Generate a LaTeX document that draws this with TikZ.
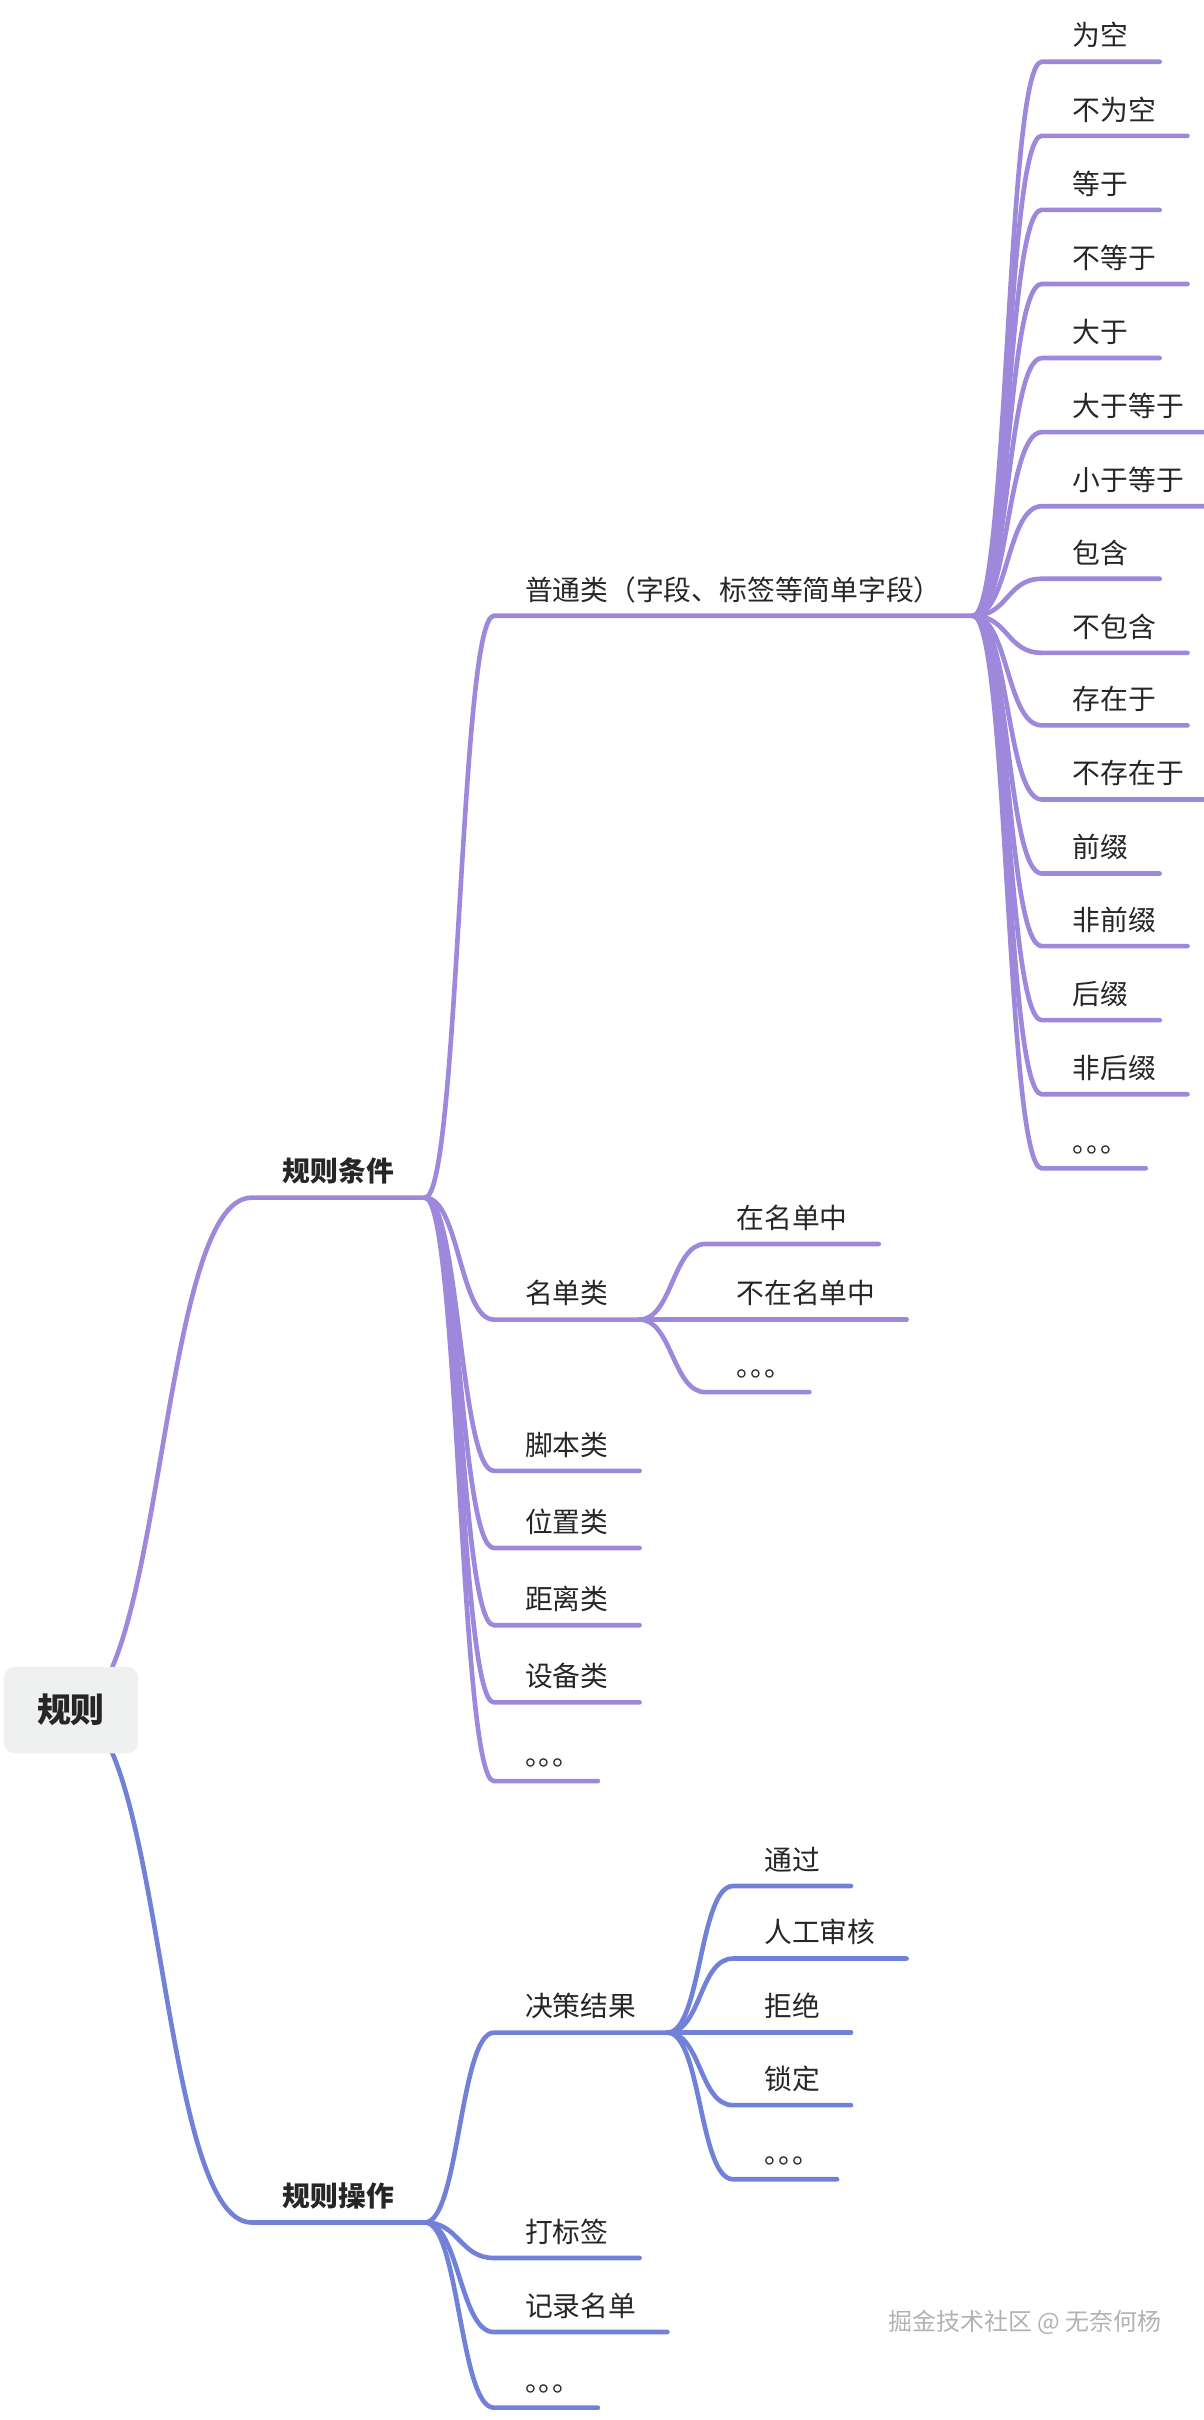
\documentclass[tikz,border=0pt]{standalone}
\usepackage{fontspec}
\setmainfont{Noto Sans CJK SC}
\newfontfamily\halffont[RawFeature=+halt]{Noto Sans CJK SC}
\usetikzlibrary{backgrounds}
\definecolor{purp}{HTML}{9D88DB}
\definecolor{blu}{HTML}{7181D8}
\definecolor{ink}{HTML}{262626}
\definecolor{rootfill}{HTML}{EFF1F1}
\tikzset{
  leaf/.style={anchor=south west, inner xsep=20pt, inner ysep=7pt, text height=15pt, text depth=3pt, text=ink, font=\fontsize{18}{22}\selectfont},
  topic/.style={leaf, font=\fontsize{18}{22}\selectfont\bfseries},
  etc/.style={leaf, font=\fontsize{18}{22}\selectfont\halffont},
  rootbox/.style={fill=rootfill, rounded corners=7pt, minimum width=87pt, minimum height=56pt, text=ink, font=\fontsize{22}{26}\selectfont\bfseries},
  cline/.style={draw=purp, line width=3pt, line cap=round},
  bline/.style={draw=blu, line width=3pt, line cap=round}
}
\begin{document}
\begin{tikzpicture}[x=1pt,y=-1pt]
\useasboundingbox (0,0) rectangle (780,1568);

\node[rootbox] (root) at (46,1108) {规则};

\node[topic] (cond) at (163,776) {规则条件};
\node[topic] (oper) at (163,1440) {规则操作};

\node[leaf] (plain) at (320,399) {普通类（字段、标签等简单字段）};
\node[leaf] (list) at (320,855) {名单类};
\node[leaf] (script) at (320,953) {脚本类};
\node[leaf] (pos) at (320,1003) {位置类};
\node[leaf] (dist) at (320,1053) {距离类};
\node[leaf] (dev) at (320,1103) {设备类};
\node[etc] (cmore) at (320,1154) {。。。};

\node[leaf] (isnull) at (675,40) {为空};
\node[leaf] (notnull) at (675,88) {不为空};
\node[leaf] (eq) at (675,136) {等于};
\node[leaf] (neq) at (675,184) {不等于};
\node[leaf] (gt) at (675,232) {大于};
\node[leaf] (ge) at (675,280) {大于等于};
\node[leaf] (le) at (675,328) {小于等于};
\node[leaf] (has) at (675,375) {包含};
\node[leaf] (nohas) at (675,423) {不包含};
\node[leaf] (exist) at (675,470) {存在于};
\node[leaf] (noexist) at (675,518) {不存在于};
\node[leaf] (pre) at (675,566) {前缀};
\node[leaf] (nopre) at (675,613) {非前缀};
\node[leaf] (suf) at (675,661) {后缀};
\node[leaf] (nosuf) at (675,709) {非后缀};
\node[etc] (pmore) at (675,757) {。。。};

\node[leaf] (inlist) at (457,806) {在名单中};
\node[leaf] (notinlist) at (457,855) {不在名单中};
\node[etc] (lmore) at (457,902) {。。。};

\node[leaf] (decide) at (320,1317) {决策结果};
\node[leaf] (tag) at (320,1463) {打标签};
\node[leaf] (record) at (320,1511) {记录名单};
\node[etc] (omore) at (320,1560) {。。。};

\node[leaf] (pass) at (475,1222) {通过};
\node[leaf] (review) at (475,1269) {人工审核};
\node[leaf] (reject) at (475,1317) {拒绝};
\node[leaf] (lock) at (475,1364) {锁定};
\node[etc] (dmore) at (475,1412) {。。。};

\node[text=black!30, font=\fontsize{15.5}{18}\selectfont] (mark) at (664,1505) {掘金技术社区 @ 无奈何杨};

\begin{scope}[on background layer]
\draw[cline] (root.center) .. controls +(60,0) and +(-60,0) .. (cond.south west) -- (cond.south east);
\draw[bline] (root.center) .. controls +(60,0) and +(-60,0) .. (oper.south west) -- (oper.south east);

\draw[cline] (cond.south east) .. controls +(22,0) and +(-22,0) .. (plain.south west) -- (plain.south east);
\draw[cline] (cond.south east) .. controls +(22,0) and +(-22,0) .. (list.south west) -- (list.south east);
\draw[cline] (cond.south east) .. controls +(22,0) and +(-22,0) .. (script.south west) -- (script.south east);
\draw[cline] (cond.south east) .. controls +(22,0) and +(-22,0) .. (pos.south west) -- (pos.south east);
\draw[cline] (cond.south east) .. controls +(22,0) and +(-22,0) .. (dist.south west) -- (dist.south east);
\draw[cline] (cond.south east) .. controls +(22,0) and +(-22,0) .. (dev.south west) -- (dev.south east);
\draw[cline] (cond.south east) .. controls +(22,0) and +(-22,0) .. (cmore.south west) -- (cmore.south east);

\draw[cline] (plain.south east) .. controls +(23,0) and +(-23,0) .. (isnull.south west) -- (isnull.south east);
\draw[cline] (plain.south east) .. controls +(23,0) and +(-23,0) .. (notnull.south west) -- (notnull.south east);
\draw[cline] (plain.south east) .. controls +(23,0) and +(-23,0) .. (eq.south west) -- (eq.south east);
\draw[cline] (plain.south east) .. controls +(23,0) and +(-23,0) .. (neq.south west) -- (neq.south east);
\draw[cline] (plain.south east) .. controls +(23,0) and +(-23,0) .. (gt.south west) -- (gt.south east);
\draw[cline] (plain.south east) .. controls +(23,0) and +(-23,0) .. (ge.south west) -- (ge.south east);
\draw[cline] (plain.south east) .. controls +(23,0) and +(-23,0) .. (le.south west) -- (le.south east);
\draw[cline] (plain.south east) .. controls +(23,0) and +(-23,0) .. (has.south west) -- (has.south east);
\draw[cline] (plain.south east) .. controls +(23,0) and +(-23,0) .. (nohas.south west) -- (nohas.south east);
\draw[cline] (plain.south east) .. controls +(23,0) and +(-23,0) .. (exist.south west) -- (exist.south east);
\draw[cline] (plain.south east) .. controls +(23,0) and +(-23,0) .. (noexist.south west) -- (noexist.south east);
\draw[cline] (plain.south east) .. controls +(23,0) and +(-23,0) .. (pre.south west) -- (pre.south east);
\draw[cline] (plain.south east) .. controls +(23,0) and +(-23,0) .. (nopre.south west) -- (nopre.south east);
\draw[cline] (plain.south east) .. controls +(23,0) and +(-23,0) .. (suf.south west) -- (suf.south east);
\draw[cline] (plain.south east) .. controls +(23,0) and +(-23,0) .. (nosuf.south west) -- (nosuf.south east);
\draw[cline] (plain.south east) .. controls +(23,0) and +(-23,0) .. (pmore.south west) -- (pmore.south east);

\draw[cline] (list.south east) .. controls +(21,0) and +(-21,0) .. (inlist.south west) -- (inlist.south east);
\draw[cline] (list.south east) -- (notinlist.south west) -- (notinlist.south east);
\draw[cline] (list.south east) .. controls +(21,0) and +(-21,0) .. (lmore.south west) -- (lmore.south east);

\draw[bline] (oper.south east) .. controls +(22,0) and +(-22,0) .. (decide.south west) -- (decide.south east);
\draw[bline] (oper.south east) .. controls +(22,0) and +(-22,0) .. (tag.south west) -- (tag.south east);
\draw[bline] (oper.south east) .. controls +(22,0) and +(-22,0) .. (record.south west) -- (record.south east);
\draw[bline] (oper.south east) .. controls +(22,0) and +(-22,0) .. (omore.south west) -- (omore.south east);

\draw[bline] (decide.south east) .. controls +(22,0) and +(-22,0) .. (pass.south west) -- (pass.south east);
\draw[bline] (decide.south east) .. controls +(22,0) and +(-22,0) .. (review.south west) -- (review.south east);
\draw[bline] (decide.south east) -- (reject.south west) -- (reject.south east);
\draw[bline] (decide.south east) .. controls +(22,0) and +(-22,0) .. (lock.south west) -- (lock.south east);
\draw[bline] (decide.south east) .. controls +(22,0) and +(-22,0) .. (dmore.south west) -- (dmore.south east);
\end{scope}
\end{tikzpicture}
\end{document}
